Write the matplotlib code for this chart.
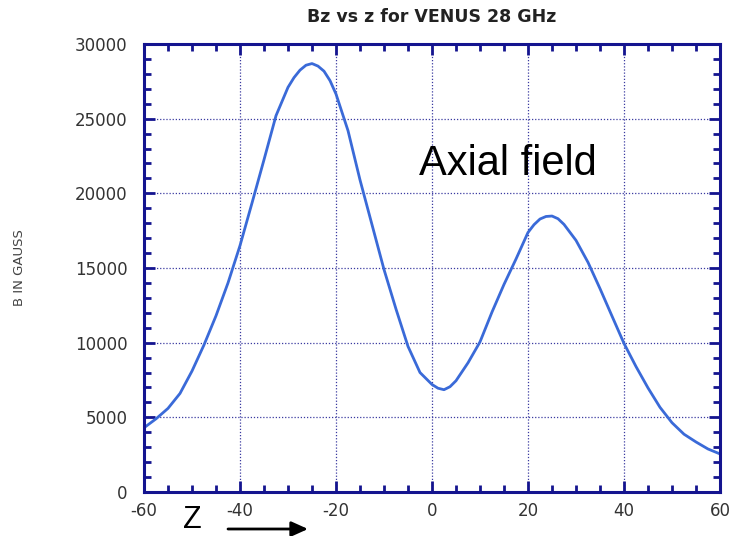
import matplotlib
matplotlib.use('Agg')
import matplotlib.pyplot as plt
import numpy as np

plt.rcParams['axes.unicode_minus'] = False

# axial field of VENUS
z = [-60, -57.5, -55, -52.5, -50, -47.5, -45, -42.5, -40, -37.5, -35, -32.5,
     -30, -28.75, -27.5, -26.25, -25, -23.75, -22.5, -21.25, -20, -17.5, -15, -12.5,
     -10, -7.5, -5, -2.5, 0, 1.25, 2.5, 3.75, 5, 7.5, 10, 12.5, 15, 17.5,
     20, 21.25, 22.5, 23.75, 25, 26.25, 27.5, 30, 32.5, 35, 37.5, 40, 42.5,
     45, 47.5, 50, 52.5, 55, 57.5, 60]
bz = [4300, 4900, 5600, 6600, 8100, 9850, 11800, 14000, 16500, 19350, 22250, 25200,
      27100, 27750, 28250, 28580, 28690, 28520, 28180, 27550, 26650, 24200, 20900, 17900,
      14900, 12250, 9750, 8000, 7200, 6950, 6850, 7050, 7450, 8650, 10050, 12050, 13900, 15600,
      17380, 17900, 18280, 18450, 18480, 18300, 17920, 16850, 15380, 13620, 11780, 9950, 8400,
      6970, 5670, 4640, 3870, 3350, 2880, 2550]

xticks = [-60, -40, -20, 0, 20, 40, 60]
yticks = [0, 5000, 10000, 15000, 20000, 25000, 30000]

navy = '#14148f'

fig = plt.figure(figsize=(7.3, 5.36), dpi=100)
ax = fig.add_axes([144 / 730, 1 - 492 / 536, 576 / 730, 448 / 536])

ax.plot(z, bz, color='#3a6ad8', lw=2.0)

ax.set_xlim(-60, 60)
ax.set_ylim(0, 30000)
ax.set_xticks(xticks)
ax.set_yticks(yticks)
ax.set_xticks(np.arange(-60, 61, 5), minor=True)
ax.set_yticks(np.arange(0, 30001, 1000), minor=True)

ax.grid(True, which='major', color='#3a3aa0', linestyle=(0, (1, 1.5)), lw=0.9)
for s in ax.spines.values():
    s.set_color(navy)
    s.set_linewidth(2.2)

ax.tick_params(which='both', direction='in', top=True, right=True,
               color=navy, labelcolor='#333333', labelsize=12)
ax.tick_params(which='major', length=8, width=2)
ax.tick_params(which='minor', length=5, width=2)
ax.tick_params(axis='y', pad=12)
ax.tick_params(axis='x', pad=7)

ax.set_title('Bz vs z for VENUS 28 GHz', fontsize=12.5, fontweight='bold',
             color='#222222', pad=16)
fig.text(20 / 730, 1 - 268 / 536, 'B IN GAUSS', rotation=90, ha='center', va='center',
         fontsize=9.5, color='#444444', family=['Liberation Sans Narrow', 'DejaVu Sans'])

ax.text(419 / 730, 1 - 175 / 536, 'Axial field', transform=fig.transFigure,
        fontsize=30, family='Liberation Sans', color='black', va='baseline')

fig.text(183 / 730, 0.002, 'Z', fontsize=22, family='Liberation Sans',
         color='black', va='bottom')
ax.annotate('', xy=(308 / 730, 1 - 529 / 536), xytext=(228 / 730, 1 - 529 / 536),
            xycoords='figure fraction', textcoords='figure fraction',
            arrowprops=dict(arrowstyle='-|>,head_length=1.0,head_width=0.45',
                            color='black', lw=2, shrinkA=0, shrinkB=0),
            annotation_clip=False)

fig.savefig('out.png', dpi=100)
